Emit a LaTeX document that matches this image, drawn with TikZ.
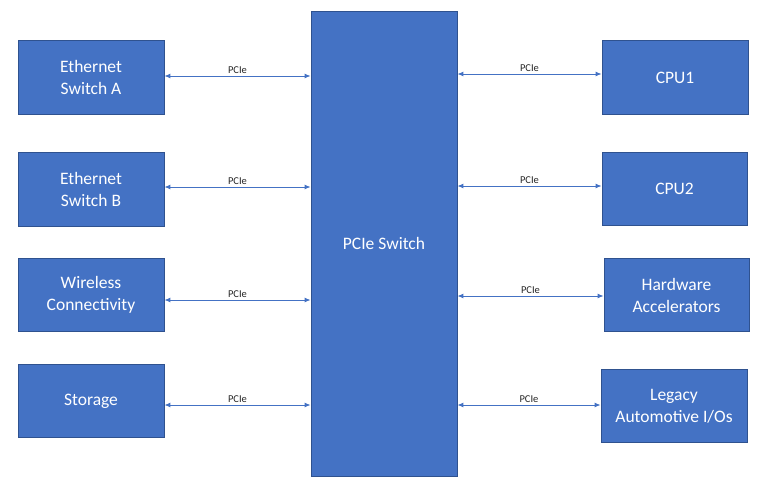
\documentclass[tikz,border=0pt]{standalone}
\usepackage{fontspec}
\setmainfont{Carlito}
\usetikzlibrary{arrows.meta,positioning,calc}
\definecolor{officeblue}{HTML}{4472C4}
\definecolor{officeedge}{HTML}{2F528F}
\definecolor{linkblue}{HTML}{4472C4}
\tikzset{%
  blockbox/.style = {%
    rectangle,
    draw=officeedge,
    fill=officeblue,
    line width=0.8pt,
    text=white,
    align=center,
    inner sep=0pt,
    font=\fontsize{17.5}{22}\selectfont},
  pcielink/.style = {%
    {Latex[length=6pt,width=5pt]}-{Latex[length=6pt,width=5pt]},
    draw=linkblue,
    line width=1pt},
  pcielabel/.style = {%
    font=\fontsize{10.5}{12}\selectfont,
    text=black!85,
    inner sep=2pt}}

\begin{document}
\begin{tikzpicture}[x=1pt,y=-1pt]

\useasboundingbox (0,0) rectangle (770,490);

\node[blockbox, minimum width=146pt, minimum height=465pt] (pcieswitch) at (384,243.5) {PCIe Switch};

% left side
\node[blockbox, minimum width=146pt, minimum height=74pt] (ethA)     at (91,77.5)  {Ethernet\\Switch A};
\node[blockbox, minimum width=146pt, minimum height=74pt] (ethB)     at (91,189.5) {Ethernet\\Switch B};
\node[blockbox, minimum width=146pt, minimum height=73pt] (wireless) at (91,295)   {Wireless\\Connectivity};
\node[blockbox, minimum width=146pt, minimum height=73pt] (storage)  at (91,401)   {Storage};

% right side
\node[blockbox, minimum width=146pt, minimum height=74pt] (cpu1)     at (675,77.5)  {CPU1};
\node[blockbox, minimum width=145pt, minimum height=73pt] (cpu2)     at (674.5,189) {CPU2};
\node[blockbox, minimum width=145pt, minimum height=73pt] (hwaccel)  at (676.5,295) {Hardware\\Accelerators};
\node[blockbox, minimum width=146pt, minimum height=73pt] (legacyio) at (674,406)   {Legacy\\Automotive I/Os};

\draw[pcielink] ($(ethA.east)+(0,-1.5)$) -- node[pcielabel, above] {PCIe} ($(ethA.east -| pcieswitch.west)+(0,-1.5)$);
\draw[pcielink] ($(ethB.east)+(0,-2.5)$) -- node[pcielabel, above] {PCIe} ($(ethB.east -| pcieswitch.west)+(0,-2.5)$);
\draw[pcielink] ($(wireless.east)+(0,5)$) -- node[pcielabel, above] {PCIe} ($(wireless.east -| pcieswitch.west)+(0,5)$);
\draw[pcielink] ($(storage.east)+(0,4)$) -- node[pcielabel, above] {PCIe} ($(storage.east -| pcieswitch.west)+(0,4)$);

\draw[pcielink] ($(pcieswitch.east |- cpu1.west)+(0,-3.5)$) -- node[pcielabel, above] {PCIe} ($(cpu1.west)+(0,-3.5)$);
\draw[pcielink] ($(pcieswitch.east |- cpu2.west)+(0,-3)$) -- node[pcielabel, above] {PCIe} ($(cpu2.west)+(0,-3)$);
\draw[pcielink] ($(pcieswitch.east |- hwaccel.west)+(0,1)$) -- node[pcielabel, above] {PCIe} ($(hwaccel.west)+(0,1)$);
\draw[pcielink] ($(pcieswitch.east |- legacyio.west)+(0,-1)$) -- node[pcielabel, above] {PCIe} ($(legacyio.west)+(0,-1)$);

\end{tikzpicture}
\end{document}
